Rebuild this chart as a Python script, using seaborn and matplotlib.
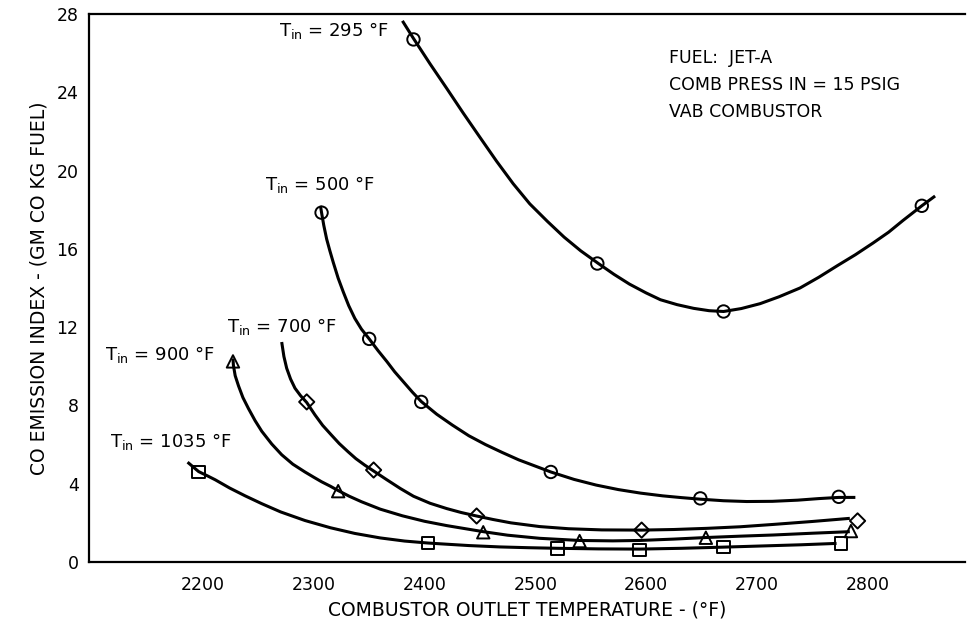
import matplotlib
matplotlib.use("Agg")
import matplotlib.pyplot as plt
import pandas as pd
import seaborn as sns

# ---- measured data points (markers) ----
t295_x = [2390, 2556, 2670, 2849]
t295_y = [26.7, 15.25, 12.8, 18.2]
t500_x = [2307, 2350, 2397, 2514, 2649, 2774]
t500_y = [17.85, 11.4, 8.18, 4.6, 3.25, 3.33]
t700_x = [2293.6, 2354, 2447, 2596, 2791]
t700_y = [8.18, 4.7, 2.35, 1.63, 2.1]
t900_x = [2227, 2322, 2453, 2540, 2654, 2785]
t900_y = [10.25, 3.62, 1.52, 1.07, 1.24, 1.58]
t1035_x = [2196, 2403, 2520, 2594, 2670, 2776]
t1035_y = [4.6, 0.97, 0.7, 0.62, 0.78, 0.95]

# ---- faired curves ----
c295_x = [2380, 2390, 2405, 2420, 2435, 2450, 2465, 2480, 2495, 2511, 2526, 2541,
          2557, 2571, 2585, 2600, 2613, 2628, 2643, 2657, 2670, 2686, 2703, 2720,
          2739, 2756, 2773, 2789, 2805, 2819, 2832, 2849, 2861]
c295_y = [27.65, 26.75, 25.45, 24.2, 22.93, 21.7, 20.48, 19.33, 18.3, 17.4, 16.6, 15.9,
          15.25, 14.7, 14.2, 13.75, 13.4, 13.15, 12.96, 12.84, 12.8, 12.95, 13.2, 13.55,
          14.0, 14.55, 15.15, 15.7, 16.3, 16.85, 17.45, 18.2, 18.7]
c500_x = [2306, 2307, 2309, 2311.6, 2314.5, 2317.6, 2322, 2326.6, 2331.5, 2337, 2343,
          2350, 2358, 2366, 2373, 2381, 2389, 2397, 2411, 2425, 2440, 2455, 2470,
          2485, 2500, 2514, 2535, 2555, 2575, 2595, 2615, 2632, 2649, 2670, 2691,
          2714, 2737, 2756, 2774, 2789]
c500_y = [18.2, 17.85, 17.2, 16.5, 15.9, 15.3, 14.5, 13.8, 13.1, 12.45, 11.9,
          11.4, 10.8, 10.24, 9.72, 9.2, 8.68, 8.2, 7.55, 7.0, 6.45, 6.0, 5.6,
          5.22, 4.9, 4.6, 4.22, 3.93, 3.7, 3.52, 3.38, 3.29, 3.21, 3.13, 3.09,
          3.1, 3.16, 3.24, 3.3, 3.3]
c700_x = [2271, 2273, 2275.5, 2279, 2283, 2288, 2293.6, 2301, 2308, 2316, 2323, 2331,
          2338, 2346, 2354, 2366, 2378, 2390, 2405, 2420, 2433, 2447, 2462, 2478,
          2504, 2530, 2560, 2596, 2625, 2655, 2685, 2715, 2750, 2784]
c700_y = [11.24, 10.5, 9.9, 9.35, 8.88, 8.5, 8.15, 7.52, 6.98, 6.48, 6.05, 5.63,
          5.28, 4.95, 4.65, 4.2, 3.76, 3.36, 3.0, 2.73, 2.53, 2.35, 2.17, 2.0,
          1.81, 1.7, 1.64, 1.63, 1.66, 1.72, 1.8, 1.92, 2.07, 2.23]
c900_x = [2227, 2227.4, 2229, 2232, 2236, 2241, 2247, 2253, 2262, 2271, 2281, 2292,
          2300, 2307, 2315, 2322, 2332, 2343, 2360, 2380, 2400, 2420, 2437, 2453,
          2475, 2504, 2540, 2570, 2594, 2625, 2654, 2685, 2715, 2750, 2784]
c900_y = [10.4, 10.05, 9.52, 9.0, 8.4, 7.84, 7.22, 6.68, 6.03, 5.48, 5.0, 4.6,
          4.33, 4.1, 3.87, 3.65, 3.36, 3.08, 2.7, 2.36, 2.08, 1.86, 1.7, 1.55,
          1.37, 1.21, 1.1, 1.08, 1.1, 1.17, 1.25, 1.32, 1.38, 1.47, 1.55]
c1035_x = [2186, 2191, 2196, 2204, 2211, 2224, 2238, 2253, 2270, 2292, 2315, 2337,
           2360, 2382, 2403, 2414, 2440, 2468, 2494, 2520, 2557, 2594, 2632, 2670,
           2705, 2740, 2772]
c1035_y = [5.1, 4.86, 4.62, 4.4, 4.2, 3.78, 3.38, 2.98, 2.56, 2.12, 1.75, 1.46,
           1.23, 1.07, 0.97, 0.93, 0.84, 0.77, 0.73, 0.7, 0.67, 0.66, 0.7, 0.76,
           0.82, 0.88, 0.95]

x_ticks = [2200, 2300, 2400, 2500, 2600, 2700, 2800]
y_ticks = [0, 4, 8, 12, 16, 20, 24, 28]

series_labels = ["295", "500", "700", "900", "1035"]
label_pos_x = [2269, 2256, 2222, 2111, 2116]
label_pos_y = [26.9, 19.0, 11.73, 10.3, 5.87]

notes = ["FUEL:  JET-A", "COMB PRESS IN = 15 PSIG", "VAB COMBUSTOR"]

sns.set_style("white")
plt.rcParams['font.family'] = ['DejaVu Sans']
plt.rcParams['text.color'] = 'black'
plt.rcParams['axes.labelcolor'] = 'black'
plt.rcParams['xtick.color'] = 'black'
plt.rcParams['ytick.color'] = 'black'

fig = plt.figure(figsize=(9.69, 6.21), dpi=100)
ax = fig.add_axes([89 / 969, 1 - 562 / 621, (965 - 89) / 969, (562 - 14) / 621])

curves = [(c295_x, c295_y), (c500_x, c500_y), (c700_x, c700_y), (c900_x, c900_y), (c1035_x, c1035_y)]
points = [(t295_x, t295_y, "o"), (t500_x, t500_y, "o"), (t700_x, t700_y, "D"),
          (t900_x, t900_y, "^"), (t1035_x, t1035_y, "s")]

for cx, cy in curves:
    df = pd.DataFrame({"x": cx, "y": cy})
    sns.lineplot(data=df, x="x", y="y", ax=ax, sort=False, estimator=None,
                 color="black", linewidth=2.2, solid_joinstyle="round",
                 solid_capstyle="butt")

for px, py, m in points:
    df = pd.DataFrame({"x": px, "y": py})
    ms = 80 if m != "D" else 60
    sns.scatterplot(data=df, x="x", y="y", ax=ax, marker=m, s=ms,
                    facecolors="none", edgecolor="black", linewidth=1.4, zorder=5)

for lab, lx, ly in zip(series_labels, label_pos_x, label_pos_y):
    ax.text(lx, ly, r"T$_{\mathregular{in}}$ = " + lab + " °F", fontsize=13,
            ha="left", va="baseline", color="black")

note_y = [25.5, 24.1, 22.75]
for t, ny in zip(notes, note_y):
    ax.text(2621, ny, t, fontsize=12.5, ha="left", va="baseline", color="black")

ax.set_xlim(2097, 2888)
ax.set_ylim(0, 28)
ax.set_xticks(x_ticks)
ax.set_yticks(y_ticks)
ax.tick_params(axis="x", direction="in", length=8, width=1.2, labelsize=12.5, pad=10)
ax.tick_params(axis="y", direction="inout", length=7, width=1.2, labelsize=12.5, pad=4)

for s in ["left", "top", "bottom"]:
    ax.spines[s].set_visible(True)
    ax.spines[s].set_color("black")
    ax.spines[s].set_linewidth(1.6)
ax.spines["right"].set_visible(False)

ax.set_xlabel("COMBUSTOR OUTLET TEMPERATURE - (°F)", fontsize=13.5, labelpad=5)
ax.set_ylabel("CO EMISSION INDEX - (GM CO KG FUEL)", fontsize=13.5, labelpad=6)

fig.savefig("out.png", dpi=100)
